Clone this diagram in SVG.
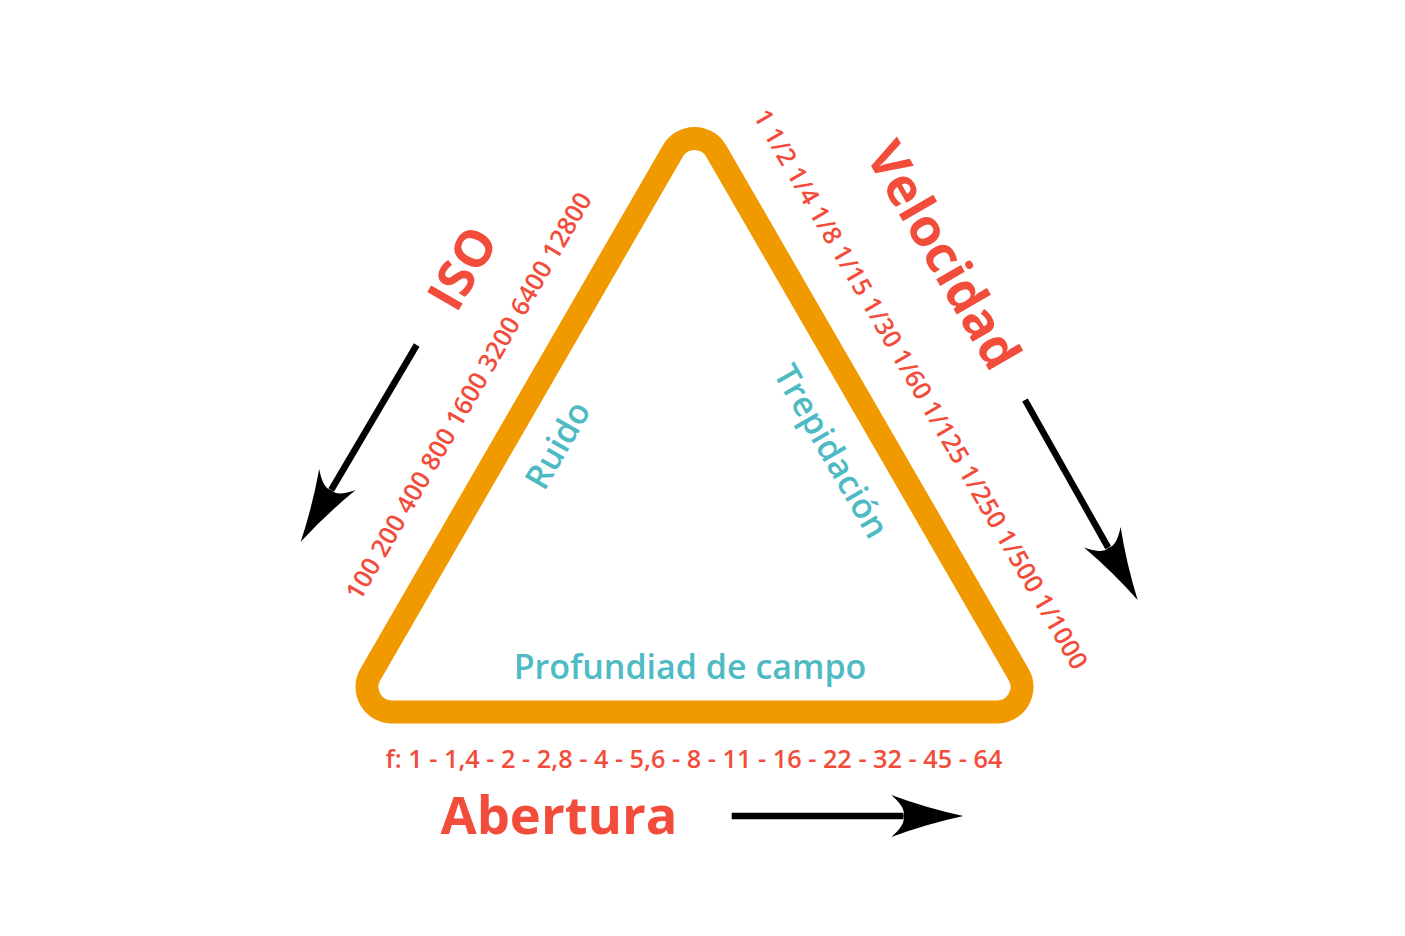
<svg xmlns="http://www.w3.org/2000/svg" width="1405" height="936" viewBox="0 0 1405 936">
<defs>
<style>
.title{font-family:"Open Sans","Liberation Sans",sans-serif;font-weight:700;fill:#F24C3A;}
.num{font-family:"Open Sans","Liberation Sans",sans-serif;font-weight:600;fill:#F24C3A;}
.eff{font-family:"Open Sans","Liberation Sans",sans-serif;font-weight:600;fill:#4DBAC4;}
.arrow{stroke:#000;stroke-width:6.5;fill:none;}
</style>
<marker id="head" markerUnits="userSpaceOnUse" markerWidth="80" markerHeight="50" viewBox="-2 -4 80 50" refX="12" refY="21" orient="auto">
<path d="M72,21 Q35,13 0,0 Q15,13 12,21 Q15,29 0,42 Q35,29 72,21 Z" fill="#000"/>
</marker>
</defs>
<rect width="1405" height="936" fill="#fff"/>
<g id="triangle">
<path d="M672.85,151 A25,25 0 0 1 716.15,151 L1018.65,674.5 A25,25 0 0 1 997,712 L392,712 A25,25 0 0 1 370.35,674.5 Z" fill="none" stroke="#F09A00" stroke-width="23" stroke-linejoin="round"/>
</g>
<g id="iso">
<text class="title" font-size="51" text-anchor="middle" dy="0.36em" transform="translate(462,268) rotate(-60)">ISO</text>
<text class="num" font-size="25.3" text-anchor="middle" dy="0.36em" transform="translate(468.5,396) rotate(-60)">100 200 400 800 1600 3200 6400 12800</text>
</g>
<g id="velocidad">
<text class="title" font-size="52" text-anchor="middle" dy="0.36em" transform="translate(944,255) rotate(60)">Velocidad</text>
<text class="num" font-size="25.3" text-anchor="middle" dy="0.36em" transform="translate(921,389) rotate(60)">1 1/2 1/4 1/8 1/15 1/30 1/60 1/125 1/250 1/500 1/1000</text>
</g>
<g id="abertura">
<text class="num" font-size="25.3" text-anchor="middle" x="694" y="768">f: 1 - 1,4 - 2 - 2,8 - 4 - 5,6 - 8 - 11 - 16 - 22 - 32 - 45 - 64</text>
<text class="title" font-size="52.5" text-anchor="middle" x="559" y="834">Abertura</text>
</g>
<g id="ruido">
<text class="eff" font-size="34" text-anchor="middle" dy="0.3em" transform="translate(559,446) rotate(-60)">Ruido</text>
</g>
<g id="trepidacion">
<text class="eff" font-size="34" text-anchor="middle" dy="0.3em" transform="translate(830,452) rotate(60)">Trepidación</text>
</g>
<g id="profundidad">
<text class="eff" font-size="34" text-anchor="middle" x="690" y="679">Profundiad de campo</text>
</g>
<g id="connectors">
<line class="arrow" x1="416.7" y1="345" x2="331.2" y2="490" marker-end="url(#head)"/>
<line class="arrow" x1="1025" y1="400" x2="1108.2" y2="547.7" marker-end="url(#head)"/>
<line class="arrow" x1="731.7" y1="816" x2="903.3" y2="816" marker-end="url(#head)"/>
</g>
</svg>
